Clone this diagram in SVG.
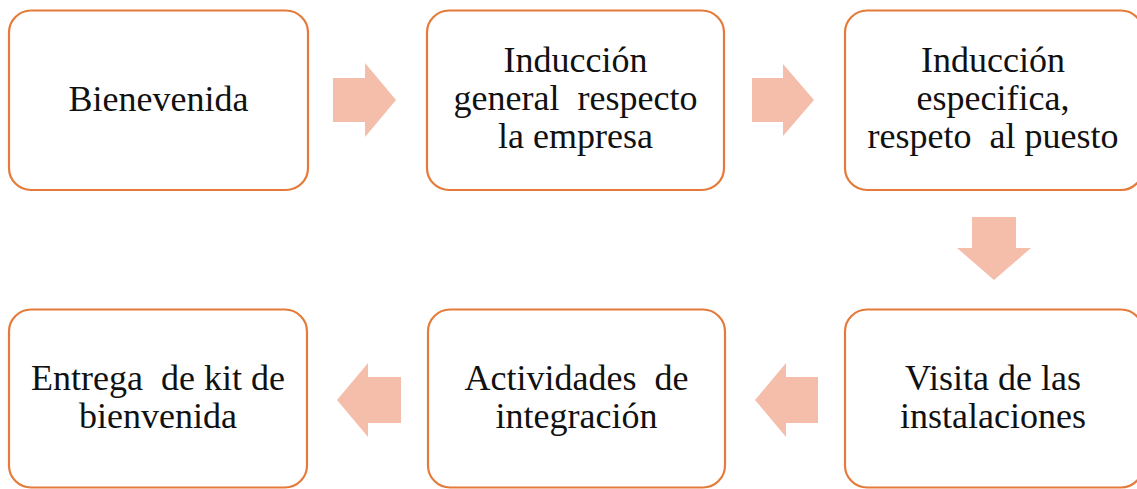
<svg xmlns="http://www.w3.org/2000/svg" width="1137" height="489" viewBox="0 0 1137 489">
<style>
.box{fill:#FFFFFF;stroke:#E57B3A;stroke-width:2.2}
.arr{fill:#F4BEAB}
</style>
<rect width="1137" height="489" fill="#FFFFFF"/>
<g id="connectors">
<polygon class="arr" points="333,78 365,78 365,63 396,100 365,137 365,122 333,122"/>
<polygon class="arr" points="752,78 783,78 783,64 814,100 783,136 783,122 752,122"/>
<polygon class="arr" points="972,217 1016,217 1016,248 1031,248 994,280 957,248 972,248"/>
<polygon class="arr" points="818,377 786,377 786,363 755,400 786,437 786,423 818,423"/>
<polygon class="arr" points="401,377 368,377 368,363 337,400 368,437 368,423 401,423"/>
</g>
<g font-family="'Liberation Serif', 'Times New Roman', serif" font-size="36" fill="#111111" text-anchor="middle">
<g id="n1">
<rect class="box" x="9" y="10.5" width="299" height="179.5" rx="22"/>
<text x="158.5" y="111">Bienevenida</text>
</g>
<g id="n2">
<rect class="box" x="427" y="10.5" width="297" height="179.5" rx="22"/>
<text x="575.5" y="72">Inducción</text>
<text x="575.5" y="110" xml:space="preserve">general  respecto</text>
<text x="575.5" y="148">la empresa</text>
</g>
<g id="n3">
<rect class="box" x="845" y="10.5" width="298" height="179.5" rx="22"/>
<text x="993" y="72">Inducción</text>
<text x="993" y="110">especifica,</text>
<text x="993" y="148" xml:space="preserve">respeto  al puesto</text>
</g>
<g id="n4">
<rect class="box" x="845" y="309.5" width="298" height="178" rx="22"/>
<text x="993" y="390">Visita de las</text>
<text x="993" y="428">instalaciones</text>
</g>
<g id="n5">
<rect class="box" x="428" y="309.5" width="297" height="178" rx="22"/>
<text x="576.5" y="390" xml:space="preserve">Actividades  de</text>
<text x="576.5" y="428">integración</text>
</g>
<g id="n6">
<rect class="box" x="9" y="309.5" width="298" height="178" rx="22"/>
<text x="158" y="390" xml:space="preserve">Entrega  de kit de</text>
<text x="158" y="428">bienvenida</text>
</g>
</g>
</svg>
